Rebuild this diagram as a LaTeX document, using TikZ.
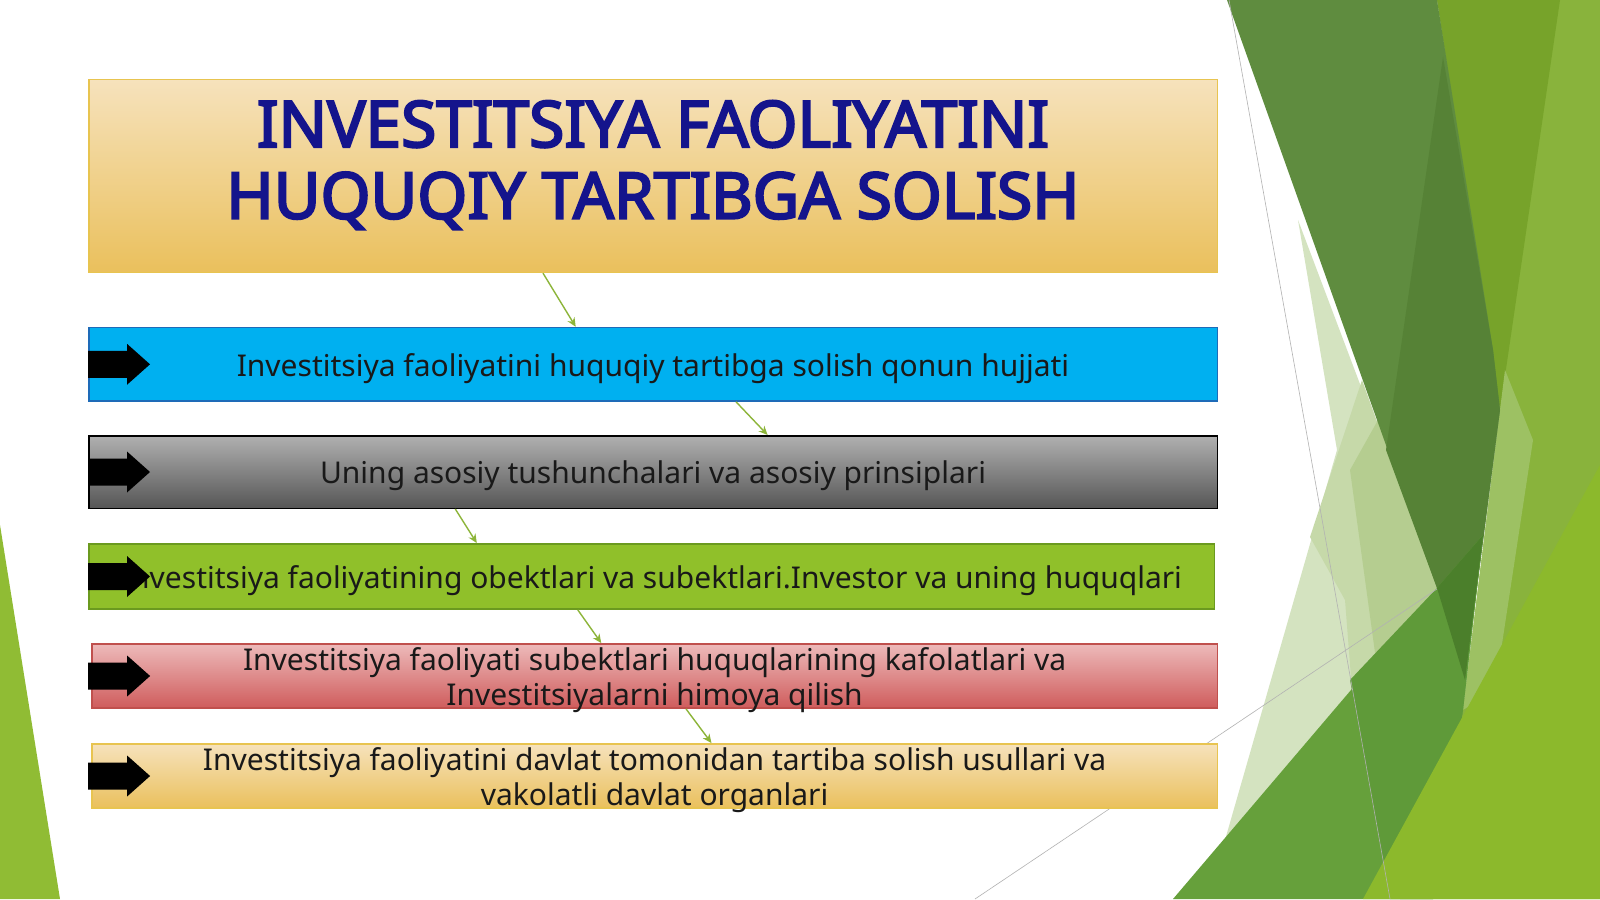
\documentclass[tikz,border=0pt]{standalone}
\usepackage{fontspec}
\setmainfont{Noto Sans}
\newfontfamily\titlefont[FakeBold=3.5]{Noto Sans}
\usetikzlibrary{arrows.meta,calc}
\definecolor{navy}{RGB}{20,20,140}
\definecolor{goldtop}{RGB}{246,226,188}
\definecolor{goldbot}{RGB}{234,192,92}
\definecolor{goldline}{RGB}{232,196,80}
\definecolor{bluefill}{RGB}{0,176,240}
\definecolor{blueline}{RGB}{30,107,184}
\definecolor{graytop}{RGB}{176,176,176}
\definecolor{graybot}{RGB}{86,86,86}
\definecolor{greenfill}{RGB}{144,192,42}
\definecolor{greenline}{RGB}{107,154,31}
\definecolor{redtop}{RGB}{237,186,186}
\definecolor{redbot}{RGB}{207,92,92}
\definecolor{redline}{RGB}{192,80,77}
\definecolor{connc}{RGB}{141,181,58}
\definecolor{bgA}{RGB}{137,179,60}
\definecolor{bgOlive}{RGB}{119,163,42}
\definecolor{bgDark}{RGB}{95,140,63}
\definecolor{bgDarker}{RGB}{86,130,54}
\definecolor{bgPale}{RGB}{212,227,192}
\definecolor{bgPaleB}{RGB}{198,217,169}
\definecolor{bgPaleC}{RGB}{181,205,144}
\definecolor{bgBand}{RGB}{102,160,59}
\definecolor{bgBandB}{RGB}{95,154,57}
\definecolor{bgE}{RGB}{75,127,43}
\definecolor{bgStrip}{RGB}{157,193,99}
\definecolor{bgLime}{RGB}{140,185,44}
\definecolor{bgLeft}{RGB}{144,188,52}
\newcommand{\tallstrut}{\rule{0pt}{31pt}}
\tikzset{
  stepbox/.style={minimum height=73.5pt, minimum width=1128.5pt, inner xsep=0pt, inner ysep=-10pt, line width=1.5pt,
     align=center, text=black!90, font=\fontsize{30}{35.7}\selectfont},
  conn/.style={draw=connc, line width=1.4pt, -{Stealth[length=9pt,width=8pt]}},
  thinline/.style={draw=black!30, line width=0.6pt},
}
\newcommand{\blockarr}[1]{\fill[black] (#1) ++(0,-13.5) -- ++(39,0) -- ++(0,-7) -- ++(23,20.5) -- ++(-23,20.5) -- ++(0,-7) -- ++(-39,0) -- cycle;}
\begin{document}
\begin{tikzpicture}[x=1pt,y=-1pt]
\useasboundingbox (0,0) rectangle (1600,899);
\fill[white] (0,0) rectangle (1600,899);
% background facets
\fill[bgLeft] (0,525) -- (60,899) -- (0,899) -- cycle;
\fill[bgA] (1437,0) -- (1600,0) -- (1600,899) -- (1400,899) -- (1463,710) -- (1500,410) -- cycle;
\fill[bgOlive] (1437,0) -- (1560,0) -- (1500,410) -- cycle;
\fill[bgStrip] (1505,370) -- (1533,440) -- (1495,690) -- (1463,710) -- (1500,410) -- cycle;
\fill[bgPale] (1298,220) -- (1437,588) -- (1225,840) -- (1337,450) -- cycle;
\fill[bgPaleB] (1362,380) -- (1437,588) -- (1352,690) -- (1345,600) -- (1310,537) -- cycle;
\fill[bgPaleC] (1378,420) -- (1437,588) -- (1376,660) -- (1350,470) -- cycle;
\fill[bgDark] (1227,0) -- (1437,0) -- (1493,350) -- (1500,410) -- (1465,680) -- (1437,588) -- cycle;
\fill[bgDarker] (1443,57) -- (1493,350) -- (1500,410) -- (1465,680) -- (1437,588) -- (1386,450) -- cycle;
\fill[bgBand] (1173,899) -- (1483,535) -- (1463,710) -- (1433,899) -- cycle;
\fill[bgBandB] (1350,680) -- (1437,588) -- (1483,535) -- (1463,710) -- (1433,899) -- (1390,899) -- cycle;
\fill[bgE] (1437,588) -- (1483,535) -- (1465,680) -- cycle;
\fill[bgLime] (1363,899) -- (1600,465) -- (1600,899) -- cycle;
\draw[thinline] (1229,0) -- (1390,899);
\draw[thinline] (975,899) -- (1437,589);
% boxes
\node[stepbox, minimum height=192.8pt, draw=goldline, top color=goldtop, bottom color=goldbot] (title) at (653,176) {};
\node[font=\titlefont\fontsize{64}{71.5}\selectfont, text=navy, align=center] (titletext) at ([yshift=11pt]title.center) {INVESTITSIYA FAOLIYATINI\\HUQUQIY TARTIBGA SOLISH};
\node[stepbox, draw=blueline, fill=bluefill] (b1) at (653,364.3) {\tallstrut Investitsiya faoliyatini huquqiy tartibga solish qonun hujjati};
\node[stepbox, minimum height=72.5pt, draw=black, top color=graytop, bottom color=graybot] (b2) at (653,472) {\tallstrut Uning asosiy tushunchalari va asosiy prinsiplari};
\node[stepbox, minimum height=65.3pt, minimum width=1125.5pt, draw=greenline, fill=greenfill] (b3) at (651.5,576.5) {\tallstrut Investitsiya faoliyatining obektlari va subektlari.Investor va uning huquqlari};
\node[stepbox, minimum height=64.3pt, minimum width=1125.5pt, draw=redline, top color=redtop, bottom color=redbot] (b4) at (654.6,676) {\tallstrut Investitsiya faoliyati subektlari huquqlarining kafolatlari va\\Investitsiyalarni himoya qilish};
\node[stepbox, minimum height=64.3pt, minimum width=1125.5pt, draw=goldline, top color=goldtop, bottom color=goldbot] (b5) at (654.6,776) {\tallstrut Investitsiya faoliyatini davlat tomonidan tartiba solish usullari va\\vakolatli davlat organlari};
% block arrows
\blockarr{b1.west}
\blockarr{b2.west}
\blockarr{b3.west}
\blockarr{[xshift=-3pt]b4.west}
\blockarr{[xshift=-3pt]b5.west}
% connectors
\draw[conn] ([xshift=455pt]title.south west) -- ([xshift=487.7pt]b1.north west);
\draw[conn] ([xshift=648pt]b1.south west) -- ([xshift=679.6pt]b2.north west);
\draw[conn] ([xshift=367.3pt]b2.south west) -- ([xshift=388.8pt]b3.north west);
\draw[conn] ([xshift=489.8pt]b3.south west) -- ([xshift=510.2pt]b4.north west);
\draw[conn] ([xshift=594.9pt]b4.south west) -- ([xshift=620.4pt]b5.north west);
\end{tikzpicture}
\end{document}
